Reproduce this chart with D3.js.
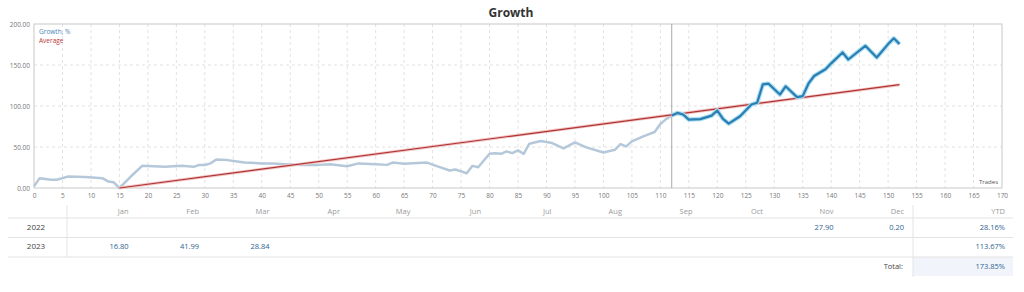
<!DOCTYPE html>
<html>
<head>
<meta charset="utf-8">
<script src="https://cdn.jsdelivr.net/npm/d3@7"></script>
<style>
  html, body { margin: 0; padding: 0; background: #fff; }
  svg { display: block; font-family: "Open Sans", sans-serif; }
</style>
</head>
<body>
<div id="chart"></div>
<script>
// Growth chart (trades on x, growth % on y) + monthly table below

// --- data ---
const growthTrades = [0, 1, 3, 4, 5, 6, 9, 12, 13, 14, 15, 17, 19, 21, 23, 26, 28, 29, 30, 31,
    32, 34, 36, 37, 40, 42, 44, 47, 50, 52, 55, 57, 60, 62, 63, 65, 69, 71, 73, 74,
    76, 77, 78, 80, 81, 82, 83, 84, 85, 86, 87, 89, 91, 93, 95, 97, 100, 102, 103, 104,
    105, 107, 109, 110, 111, 112, 113, 114, 115, 117, 119, 120, 121, 122, 124, 126, 127, 128, 129, 131,
    132, 134, 135, 136, 137, 139, 140, 142, 143, 146, 148, 150, 151, 152];
const growthValues = [2, 12, 10, 10, 12, 14, 13.5, 12, 8, 7, 0, 14, 27, 26.6, 26, 27, 25.8, 28, 28, 30,
    34.7, 34, 32, 31, 30, 29.8, 29, 28.2, 28.2, 29, 26.5, 30, 29, 28.2, 31, 29.6, 31, 26, 21.3, 22.6,
    18, 27, 25.3, 41.7, 42.5, 41.7, 44.6, 42.5, 45.8, 41.7, 54, 57.3, 54.8, 48.2, 55.6, 49.5, 43.3, 46.6, 53.6, 50.7,
    56.8, 63, 68.3, 78, 84, 88.5, 91.6, 89.6, 83.4, 84, 88.3, 94.5, 84.3, 78.5, 87.5, 101.8, 104, 126.4, 127.2, 114,
    124, 110.8, 112, 127.2, 136.6, 144.8, 152, 165.3, 156.7, 173.4, 159.1, 175.5, 182.5, 175.5];
const signalStart = 112;           // trade where the monitored (dark) part starts
const averageTrades = [15, 152];
const averageValues = [0, 126];

const yTicks = [0, 50, 100, 150, 200];
const months = ["Jan", "Feb", "Mar", "Apr", "May", "Jun", "Jul", "Aug", "Sep", "Oct", "Nov", "Dec"];
const years = ["2022", "2023"];
const monthly2022 = [null, null, null, null, null, null, null, null, null, null, "27.90", "0.20"];
const monthly2023 = ["16.80", "41.99", "28.84", null, null, null, null, null, null, null, null, null];
const ytdValues = ["28.16%", "113.67%"];
const totalValue = "173.85%";

const width = 1024, height = 292;
const plot = { left: 34, right: 1002, top: 24, bottom: 188 };

const svg = d3.select("#chart").append("svg")
    .attr("width", width)
    .attr("height", height);

svg.append("text")
    .attr("x", 511).attr("y", 17)
    .attr("text-anchor", "middle")
    .attr("font-size", 12).attr("font-weight", "bold")
    .attr("fill", "#333")
    .text("Growth");

const x = d3.scaleLinear().domain([0, 170]).range([plot.left, plot.right]);
const y = d3.scaleLinear().domain([0, 200]).range([plot.bottom, plot.top]);

// grid (dashed)
const grid = svg.append("g").attr("stroke", "#e2e2e2").attr("stroke-dasharray", "3,3");
grid.selectAll(".vg").data(d3.range(5, 170, 5)).enter().append("line")
    .attr("x1", d => x(d)).attr("x2", d => x(d))
    .attr("y1", plot.top).attr("y2", plot.bottom);
grid.selectAll(".hg").data(yTicks.slice(1, -1)).enter().append("line")
    .attr("x1", plot.left).attr("x2", plot.right)
    .attr("y1", d => y(d)).attr("y2", d => y(d));

// frame
svg.append("rect")
    .attr("x", plot.left).attr("y", plot.top)
    .attr("width", plot.right - plot.left).attr("height", plot.bottom - plot.top)
    .attr("fill", "none").attr("stroke", "#c8c8c8");

// axes
const xAxis = svg.append("g")
    .attr("transform", `translate(0, ${plot.bottom})`)
    .call(d3.axisBottom(x).tickValues(d3.range(0, 171, 5)).tickSize(0).tickPadding(5));
const yAxis = svg.append("g")
    .attr("transform", `translate(${plot.left}, 0)`)
    .call(d3.axisLeft(y).tickValues(yTicks).tickSize(0).tickPadding(4).tickFormat(d3.format(".2f")));
[xAxis, yAxis].forEach(a => {
    a.select(".domain").remove();
    a.selectAll("text").attr("font-size", 6.5).attr("fill", "#777").attr("font-family", "Open Sans, sans-serif");
});

svg.append("text")
    .attr("x", plot.right - 4).attr("y", plot.bottom - 4)
    .attr("text-anchor", "end").attr("font-size", 6).attr("fill", "#555")
    .text("Trades");

// legend
svg.append("text").attr("x", 39).attr("y", 34).attr("font-size", 6.5).attr("fill", "#4a86b8").text("Growth, %");
svg.append("text").attr("x", 39).attr("y", 43).attr("font-size", 6.5).attr("fill", "#b83a3a").text("Average");

// signal start marker
svg.append("line")
    .attr("x1", x(signalStart)).attr("x2", x(signalStart))
    .attr("y1", plot.top).attr("y2", plot.bottom)
    .attr("stroke", "#a8a8a8");

const points = growthTrades.map((t, i) => ({ t, v: growthValues[i] }));
const line = d3.line().x(d => x(d.t)).y(d => y(d.v));

const history = points.filter(d => d.t <= signalStart);
const signal = points.filter(d => d.t >= signalStart);

svg.append("path").datum(history)
    .attr("d", line).attr("fill", "none")
    .attr("stroke", "#b5c8da").attr("stroke-width", 2.5).attr("stroke-linejoin", "round");

const avg = averageTrades.map((t, i) => ({ t, v: averageValues[i] }));
svg.append("path").datum(avg)
    .attr("d", line).attr("fill", "none")
    .attr("stroke", "#f2c4c4").attr("stroke-width", 3);
svg.append("path").datum(avg)
    .attr("d", line).attr("fill", "none")
    .attr("stroke", "#b03434").attr("stroke-width", 1.2);

svg.append("path").datum(signal)
    .attr("d", line).attr("fill", "none")
    .attr("stroke", "#a9dff2").attr("stroke-width", 4.5).attr("stroke-linejoin", "round");
svg.append("path").datum(signal)
    .attr("d", line).attr("fill", "none")
    .attr("stroke", "#2b7db2").attr("stroke-width", 2.2).attr("stroke-linejoin", "round");

// --- monthly table ---
const table = svg.append("g").attr("font-family", "Open Sans, sans-serif");
const col = d3.scaleBand().domain(months).range([67, 913]);
const rowY = { head: 211, r0: 227.5, r1: 246.5, total: 266.5 };

table.append("rect")
    .attr("x", 913).attr("y", 257).attr("width", 100).attr("height", 19)
    .attr("fill", "#f1f5fb");

table.selectAll(".hl").data([218, 237.5, 257]).enter().append("line")
    .attr("x1", 8).attr("x2", 1013)
    .attr("y1", d => d).attr("y2", d => d)
    .attr("stroke", "#e3e3e3");
table.append("line").attr("x1", 67).attr("x2", 67).attr("y1", 205).attr("y2", 257).attr("stroke", "#e3e3e3");
table.append("line").attr("x1", 913).attr("x2", 913).attr("y1", 205).attr("y2", 277).attr("stroke", "#e3e3e3");

table.selectAll(".mh").data(months).enter().append("text")
    .attr("x", d => col(d) + col.bandwidth() - 9)
    .attr("y", rowY.head).attr("dy", "0.35em")
    .attr("text-anchor", "end").attr("font-size", 7.5).attr("fill", "#9a9a9a")
    .text(d => d);
table.append("text")
    .attr("x", 1005).attr("y", rowY.head).attr("dy", "0.35em")
    .attr("text-anchor", "end").attr("font-size", 7.5).attr("fill", "#9a9a9a")
    .text("YTD");

[monthly2022, monthly2023].forEach((vals, r) => {
    const yy = r === 0 ? rowY.r0 : rowY.r1;
    table.append("text")
        .attr("x", 36).attr("y", yy).attr("dy", "0.35em")
        .attr("text-anchor", "middle").attr("font-size", 8).attr("fill", "#444")
        .text(years[r]);
    table.selectAll(`.v${r}`).data(months.map((m, i) => ({ m, v: vals[i] })).filter(d => d.v !== null))
        .enter().append("text")
        .attr("x", d => col(d.m) + col.bandwidth() - 9)
        .attr("y", yy).attr("dy", "0.35em")
        .attr("text-anchor", "end").attr("font-size", 7.5).attr("fill", "#2f6490")
        .text(d => d.v);
    table.append("text")
        .attr("x", 1005).attr("y", yy).attr("dy", "0.35em")
        .attr("text-anchor", "end").attr("font-size", 7.5).attr("fill", "#2f6490")
        .text(ytdValues[r]);
});

table.append("text")
    .attr("x", 903).attr("y", rowY.total).attr("dy", "0.35em")
    .attr("text-anchor", "end").attr("font-size", 7.5).attr("fill", "#444")
    .text("Total:");
table.append("text")
    .attr("x", 1005).attr("y", rowY.total).attr("dy", "0.35em")
    .attr("text-anchor", "end").attr("font-size", 7.5).attr("fill", "#2f6490")
    .text(totalValue);
</script>
</body>
</html>
